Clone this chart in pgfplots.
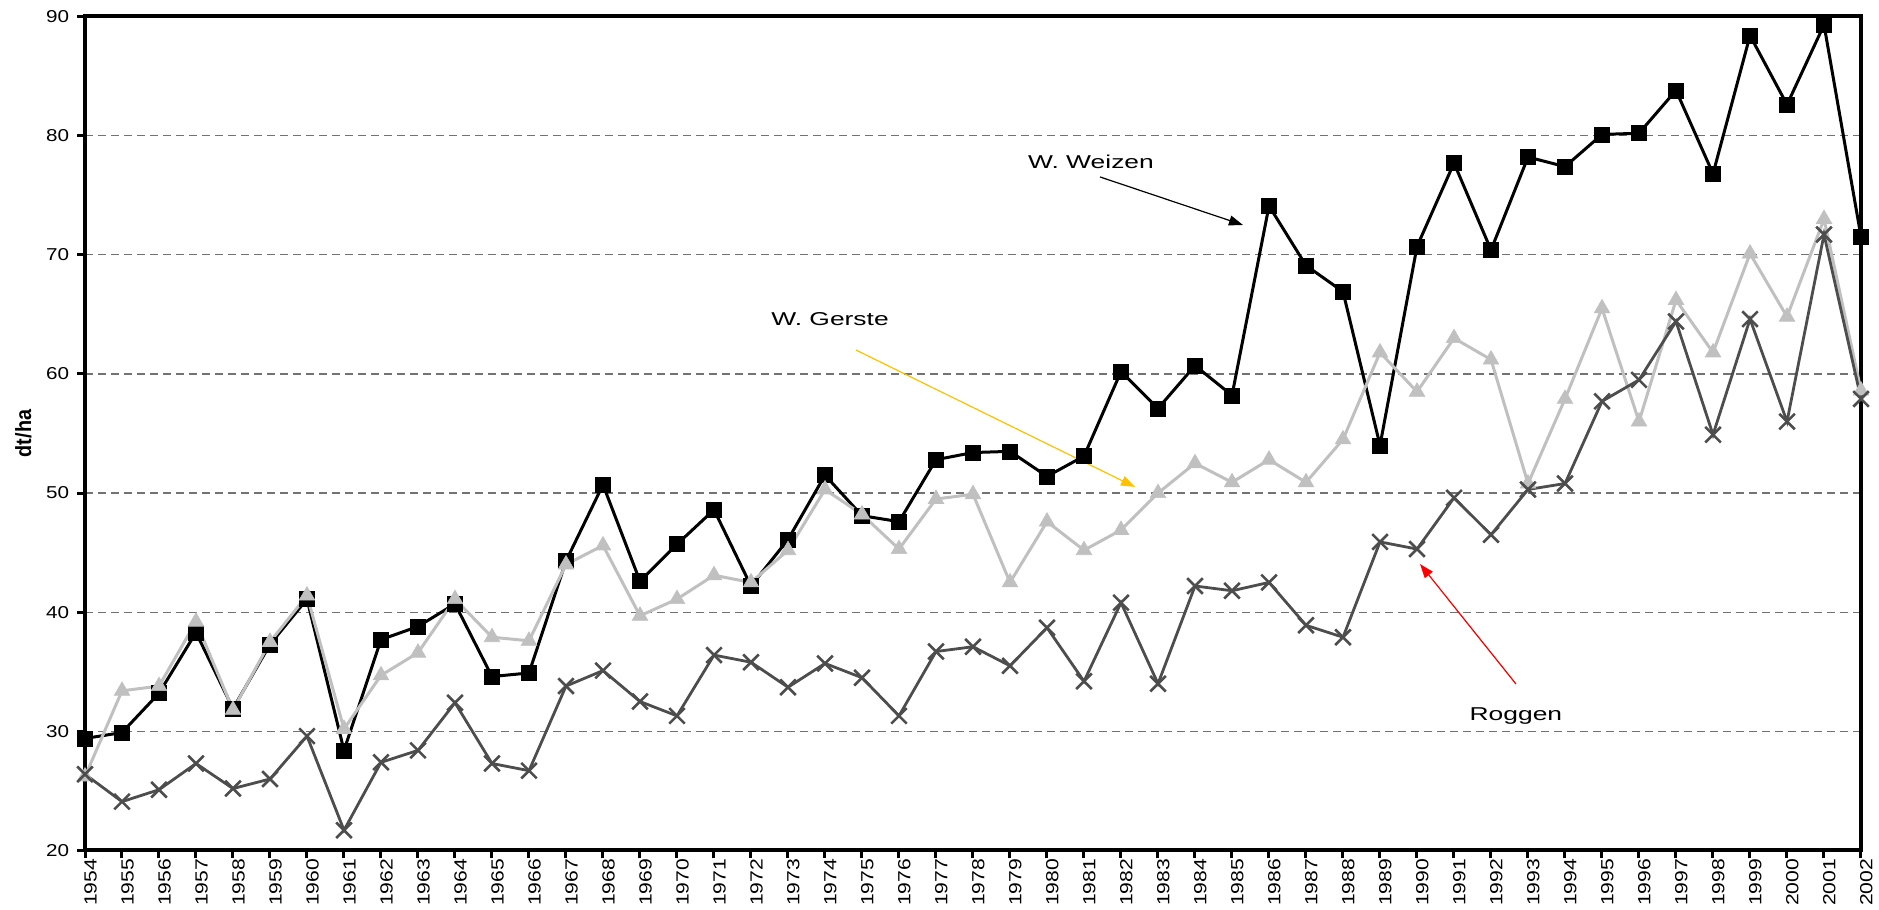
\documentclass[border=0pt]{standalone}
\usepackage{pgfplots}
\pgfplotsset{compat=1.18}
\usepackage{fontspec}
\setmainfont{Liberation Sans}
\usetikzlibrary{arrows.meta}
\definecolor{gerste}{HTML}{C0C0C0}
\definecolor{roggen}{HTML}{4D4D4D}
\definecolor{gold}{HTML}{FFC000}

\pgfplotstableread{
year weizen gerste roggen
1954 29.4 26.2 26.4
1955 29.9 33.4 24.1
1956 33.2 33.8 25.1
1957 38.3 39.2 27.3
1958 31.9 31.8 25.2
1959 37.3 37.5 26.0
1960 41.1 41.4 29.6
1961 28.4 30.2 21.7
1962 37.7 34.7 27.4
1963 38.8 36.6 28.4
1964 40.7 41.1 32.4
1965 34.6 37.9 27.3
1966 34.9 37.6 26.7
1967 44.3 44.0 33.8
1968 50.7 45.6 35.1
1969 42.6 39.7 32.5
1970 45.7 41.1 31.3
1971 48.6 43.1 36.4
1972 42.2 42.5 35.8
1973 46.1 45.2 33.7
1974 51.5 50.3 35.7
1975 48.1 48.2 34.5
1976 47.6 45.3 31.3
1977 52.8 49.5 36.7
1978 53.4 49.9 37.1
1979 53.5 42.5 35.5
1980 51.4 47.6 38.7
1981 53.1 45.2 34.2
1982 60.2 46.9 40.8
1983 57.1 50.0 34.0
1984 60.7 52.5 42.2
1985 58.2 50.9 41.8
1986 74.1 52.8 42.5
1987 69.1 50.9 38.9
1988 66.9 54.5 37.9
1989 54.0 61.8 45.9
1990 70.7 58.5 45.3
1991 77.7 63.0 49.6
1992 70.4 61.2 46.5
1993 78.2 50.8 50.3
1994 77.4 57.9 50.8
1995 80.1 65.5 57.7
1996 80.2 56.0 59.5
1997 83.8 66.2 64.4
1998 76.8 61.8 54.9
1999 88.4 70.1 64.6
2000 82.6 64.8 56.0
2001 89.3 73.0 71.7
2002 71.5 58.6 57.9
}\datatable

\begin{document}
\begin{tikzpicture}
\begin{axis}[
  scale only axis, width=888pt, height=417pt,
  xmin=1954, xmax=2002, ymin=20, ymax=90,
  xtick={1954,...,2002}, ytick={20,30,...,90},
  clip=false,
  axis line style={line width=2pt},
  xtick pos=lower, ytick pos=left,
  tick align=outside, major tick length=4pt,
  tick style={line width=1.5pt,black},
  ymajorgrids,
  grid style={black!55, line width=0.6pt, dash pattern=on 4pt off 2.5pt},
  yticklabel={\scalebox{1.2}[1]{\pgfmathprintnumber[assume math mode=true]{\tick}}},
  yticklabel style={font=\fontsize{8.6}{10}\selectfont, anchor=east, inner sep=0pt, xshift=-3.8pt},
  xticklabel={\scalebox{1.2}[1]{\pgfmathprintnumber[fixed,precision=0,1000 sep={},assume math mode=true]{\tick}}},
  xticklabel style={rotate=90, anchor=east, inner sep=0pt, yshift=-2.75pt, font=\fontsize{8.8}{10}\selectfont},
]
\addplot[black, line width=1.5pt, mark=square*, mark size=3.75pt, mark options={solid, line width=0.3pt}] table[x=year,y=weizen] {\datatable};
\addplot[gerste, line width=1.5pt, mark=triangle*, mark size=4.5pt, mark options={solid, line width=0.3pt}] table[x=year,y=gerste] {\datatable};
\addplot[roggen, line width=1.4pt, mark=x, mark size=5.5pt, mark options={solid, line width=1.3pt}] table[x=year,y=roggen] {\datatable};

\node[font=\fontsize{9.3}{11}\selectfont] at (rel axis cs:0.5664,0.8255) {\scalebox{1.42}[1]{W. Weizen}};
\draw[black, line width=0.6pt, -{Triangle[length=7pt,width=5pt]}] (rel axis cs:0.5715,0.8076) -- (rel axis cs:0.6520,0.7500);
\node[font=\fontsize{9.3}{11}\selectfont] at (rel axis cs:0.4195,0.6373) {\scalebox{1.42}[1]{W. Gerste}};
\draw[gold, line width=0.6pt, -{Triangle[length=7pt,width=5pt]}] (rel axis cs:0.4341,0.6001) -- (rel axis cs:0.5912,0.4359);
\node[font=\fontsize{9.3}{11}\selectfont] at (rel axis cs:0.8057,0.1613) {\scalebox{1.42}[1]{Roggen}};
\draw[red, line width=0.6pt, -{Triangle[length=7pt,width=5pt]}] (rel axis cs:0.8057,0.1997) -- (rel axis cs:0.7517,0.3435);

\node[rotate=90, font=\bfseries\fontsize{11}{13}\selectfont] at ([xshift=-30.75pt]rel axis cs:0,0.5) {\scalebox{0.9}[1]{dt/ha}};

\coordinate (bbsw) at ([xshift=-42.5pt,yshift=-29.75pt]rel axis cs:0,0);
\coordinate (bbne) at ([xshift=9pt,yshift=8.25pt]rel axis cs:1,1);
\end{axis}
\pgfresetboundingbox
\useasboundingbox (bbsw) rectangle (bbne);
\end{tikzpicture}
\end{document}
